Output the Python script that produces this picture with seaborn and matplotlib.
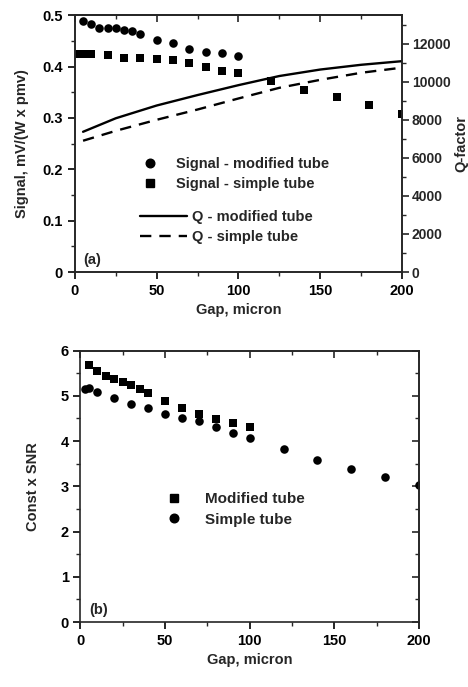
import seaborn as sns
import matplotlib.pyplot as plt
from matplotlib.lines import Line2D
from matplotlib.ticker import MultipleLocator

# panel (a): signal (left axis) and Q-factor (right axis) vs gap
gap_mod = [5, 10, 15, 20, 25, 30, 35, 40, 50, 60, 70, 80, 90, 100]
signal_mod = [0.488, 0.482, 0.475, 0.475, 0.475, 0.472, 0.470, 0.463,
              0.452, 0.445, 0.435, 0.429, 0.427, 0.421]
gap_simple = [2.5, 5, 10, 20, 30, 40, 50, 60, 70, 80, 90, 100,
              120, 140, 160, 180, 200]
signal_simple = [0.425, 0.425, 0.425, 0.423, 0.417, 0.417, 0.414, 0.412,
                 0.407, 0.399, 0.392, 0.387, 0.371, 0.354, 0.340, 0.326, 0.307]

gap_q = [5, 25, 50, 75, 100, 125, 150, 175, 200]
q_mod = [7370, 8080, 8750, 9300, 9820, 10300, 10640, 10890, 11080]
q_simple = [6900, 7420, 8000, 8540, 9120, 9680, 10100, 10470, 10740]

# panel (b): const x SNR vs gap
snr_mod = [5.68, 5.54, 5.44, 5.37, 5.31, 5.23, 5.16, 5.06,
           4.89, 4.73, 4.60, 4.48, 4.41, 4.31]
snr_simple = [5.15, 5.18, 5.09, 4.96, 4.83, 4.73, 4.61, 4.52, 4.45,
              4.31, 4.17, 4.06, 3.83, 3.58, 3.39, 3.20, 3.03]

sns.set_style('ticks')
plt.rcParams['font.family'] = ['Liberation Sans', 'DejaVu Sans']
plt.rcParams['font.weight'] = 'bold'
plt.rcParams['axes.labelweight'] = 'bold'
plt.rcParams['axes.linewidth'] = 1.2
plt.rcParams['font.size'] = 10.5

fig = plt.figure(figsize=(4.68, 6.87), dpi=100)
axa = fig.add_axes([0.160, 0.604, 0.699, 0.374])
axb = fig.add_axes([0.172, 0.0946, 0.723, 0.395])


def style_ticks(ax, right_mirror=True):
    ax.tick_params(which='major', direction='out', length=5, width=1.2,
                   labelsize=10.5, colors='black')
    ax.tick_params(which='minor', direction='out', length=3, width=1.0)
    top = ax.secondary_xaxis('top')
    top.set_xticks(ax.get_xticks())
    top.xaxis.set_minor_locator(MultipleLocator(25))
    top.tick_params(which='major', direction='in', length=5, width=1.2, labeltop=False)
    top.tick_params(which='minor', direction='in', length=3, width=1.0)
    if right_mirror:
        right = ax.secondary_yaxis('right')
        right.set_yticks(ax.get_yticks())
        right.yaxis.set_minor_locator(ax.yaxis.get_minor_locator())
        right.tick_params(which='major', direction='in', length=5, width=1.2, labelright=False)
        right.tick_params(which='minor', direction='in', length=3, width=1.0)


# ---- panel (a)
sns.scatterplot(x=gap_mod, y=signal_mod, marker='o', color='black', s=38,
                linewidth=0, ax=axa)
sns.scatterplot(x=gap_simple, y=signal_simple, marker='s', color='black', s=32,
                linewidth=0, ax=axa)
axa.set_xlim(0, 200)
axa.set_ylim(0, 0.5)
axa.set_xticks([0, 50, 100, 150, 200])
axa.set_yticks([0, 0.1, 0.2, 0.3, 0.4, 0.5], ['0', '0.1', '0.2', '0.3', '0.4', '0.5'])
axa.xaxis.set_minor_locator(MultipleLocator(25))
axa.yaxis.set_minor_locator(MultipleLocator(0.05))
axa.set_xlabel('Gap, micron')
axa.set_ylabel('Signal, mV/(W x pmv)', labelpad=10)
style_ticks(axa, right_mirror=False)

axq = axa.twinx()
sns.lineplot(x=gap_q, y=q_mod, color='black', lw=1.7, ax=axq)
sns.lineplot(x=gap_q, y=q_simple, color='black', lw=1.7, ls=(0, (4.8, 3.4)), ax=axq)
axq.set_ylim(0, 13500)
axq.set_yticks(range(0, 12001, 2000))
axq.yaxis.set_minor_locator(MultipleLocator(1000))
axq.tick_params(which='major', direction='out', length=5, width=1.2, labelsize=10, pad=2)
axq.tick_params(which='minor', direction='out', length=3, width=1.0)
axq.set_ylabel('Q-factor', rotation=90, labelpad=3)

h_sig = [Line2D([], [], marker='o', color='black', ls='none', markersize=6.2),
         Line2D([], [], marker='s', color='black', ls='none', markersize=5.7)]
leg1 = axq.legend(h_sig, ['Signal - modified tube', 'Signal - simple tube'],
                  loc='center left', bbox_to_anchor=(0.208, 0.381), frameon=False,
                  handlelength=1.0, handletextpad=1.3, labelspacing=0.45,
                  borderpad=0, borderaxespad=0)
axq.add_artist(leg1)
h_q = [Line2D([], [], color='black', lw=1.7),
       Line2D([], [], color='black', lw=1.7, ls=(0, (4.8, 3.4)))]
axq.legend(h_q, ['Q - modified tube', 'Q - simple tube'],
           loc='center left', bbox_to_anchor=(0.199, 0.175), frameon=False,
           handlelength=3.2, handletextpad=0.35, labelspacing=0.45,
           borderpad=0, borderaxespad=0)
axa.text(0.025, 0.03, '(a)', transform=axa.transAxes, fontsize=10.5, fontweight='bold')

# ---- panel (b)
sns.scatterplot(x=gap_mod, y=snr_mod, marker='s', color='black', s=32,
                linewidth=0, ax=axb)
sns.scatterplot(x=gap_simple, y=snr_simple, marker='o', color='black', s=38,
                linewidth=0, ax=axb)
axb.set_xlim(0, 200)
axb.set_ylim(0, 6)
axb.set_xticks([0, 50, 100, 150, 200])
axb.set_yticks(range(0, 7))
axb.xaxis.set_minor_locator(MultipleLocator(25))
axb.yaxis.set_minor_locator(MultipleLocator(0.5))
axb.set_xlabel('Gap, micron')
axb.set_ylabel('Const x SNR', labelpad=15)
style_ticks(axb)

h_snr = [Line2D([], [], marker='s', color='black', ls='none', markersize=5.7),
         Line2D([], [], marker='o', color='black', ls='none', markersize=6.2)]
axb.legend(h_snr, ['Modified tube', 'Simple tube'],
           loc='center left', bbox_to_anchor=(0.255, 0.415), frameon=False,
           handlelength=1.0, handletextpad=1.5, labelspacing=0.45,
           borderpad=0, borderaxespad=0, fontsize=11)
axb.text(0.025, 0.03, '(b)', transform=axb.transAxes, fontsize=10.5, fontweight='bold')

fig.savefig('out.png', dpi=100)
